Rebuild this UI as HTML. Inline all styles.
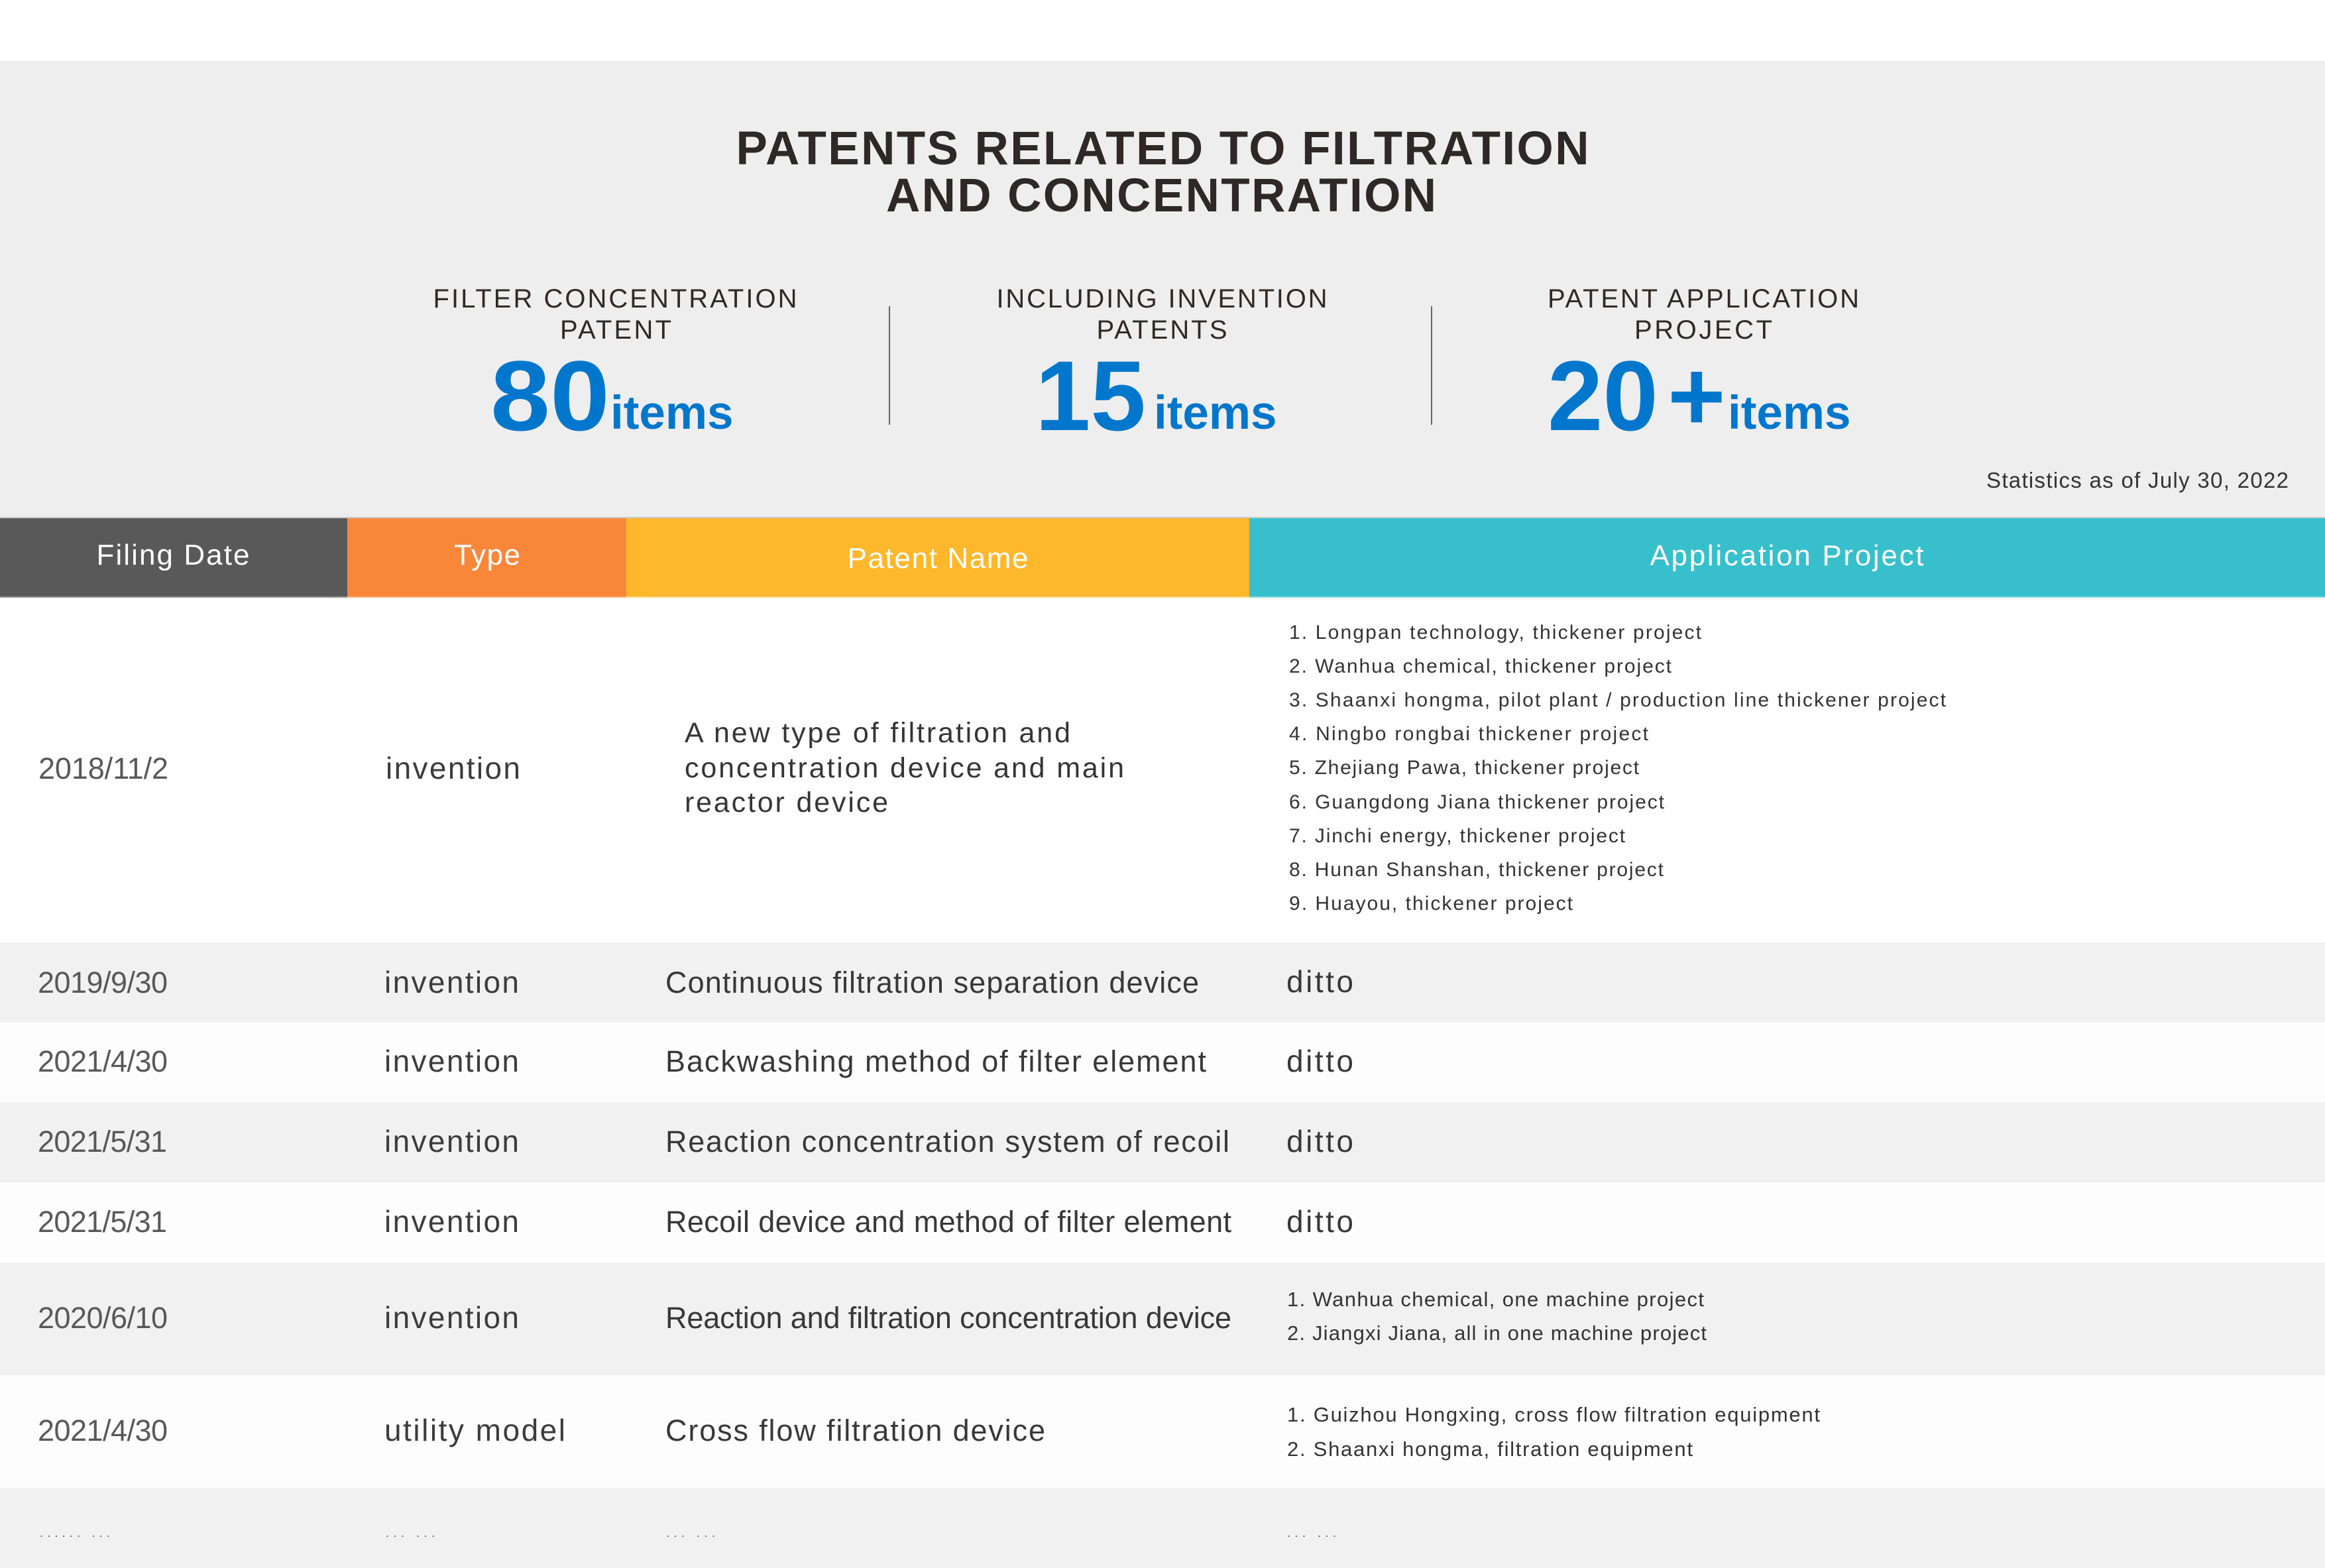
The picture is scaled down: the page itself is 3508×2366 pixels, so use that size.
<!DOCTYPE html>
<html>
<head>
<meta charset="utf-8">
<style>
html,body{margin:0;padding:0;background:#fff;}
body{width:3508px;height:2366px;overflow:hidden;}
svg{display:block;}
text{font-family:"Liberation Sans", Arial, sans-serif;}
</style>
</head>
<body>
<svg width="3508" height="2366" viewBox="0 0 3508 2366" xmlns="http://www.w3.org/2000/svg">
  <!-- backgrounds -->
  <rect x="0" y="0" width="3508" height="92" fill="#ffffff"/>
  <rect x="0" y="92" width="3508" height="690" fill="#eeeeee"/>

  <!-- title -->
  <g fill="#2e2826" font-weight="bold" font-size="71" text-anchor="middle">
    <text x="1754" y="248" textLength="1287" lengthAdjust="spacing">PATENTS RELATED TO FILTRATION</text>
    <text x="1752" y="319" textLength="830" lengthAdjust="spacing">AND CONCENTRATION</text>
  </g>

  <!-- subtitles -->
  <g fill="#2f2a28" font-size="40" text-anchor="middle">
    <text x="928" y="464" textLength="549" lengthAdjust="spacing">FILTER CONCENTRATION</text>
    <text x="929" y="511" textLength="168" lengthAdjust="spacing">PATENT</text>
    <text x="1753" y="464" textLength="499" lengthAdjust="spacing">INCLUDING INVENTION</text>
    <text x="1753" y="511" textLength="197" lengthAdjust="spacing">PATENTS</text>
    <text x="2570" y="464" textLength="470" lengthAdjust="spacing">PATENT APPLICATION</text>
    <text x="2570" y="511" textLength="208" lengthAdjust="spacing">PROJECT</text>
  </g>

  <!-- separators -->
  <rect x="1341" y="462" width="2" height="179" fill="#666"/>
  <rect x="2159" y="462" width="2" height="179" fill="#666"/>

  <!-- big numbers -->
  <g fill="#0077cc" font-weight="bold">
    <text x="740" y="649" font-size="150" textLength="180" lengthAdjust="spacingAndGlyphs">80</text>
    <text x="921" y="647" font-size="71">items</text>
    <text x="1562" y="649" font-size="150">15</text>
    <text x="1741" y="647" font-size="71">items</text>
    <text x="2335" y="649" font-size="150">20</text>
    <text x="2516" y="649" font-size="150">+</text>
    <text x="2607" y="647" font-size="71">items</text>
  </g>

  <!-- statistics note -->
  <text x="2997" y="736" font-size="33" fill="#333" textLength="456" lengthAdjust="spacing">Statistics as of July 30, 2022</text>

  <!-- header -->
  <rect x="0" y="780" width="3508" height="2" fill="#c9c9c9"/>
  <rect x="0" y="782" width="524" height="120" fill="#595959"/>
  <rect x="524" y="782" width="421" height="120" fill="#f8873a"/>
  <rect x="945" y="782" width="940" height="120" fill="#ffb72c"/>
  <rect x="1885" y="782" width="1623" height="120" fill="#38bfcc"/>
  <rect x="0" y="900" width="524" height="2" fill="#9a9a9a"/>
  <rect x="524" y="900" width="421" height="2" fill="#fbb88a"/>
  <rect x="945" y="900" width="940" height="2" fill="#ffd98a"/>
  <rect x="1885" y="900" width="1623" height="2" fill="#8edbe3"/>
  <g fill="#ffffff" font-size="44" text-anchor="middle">
    <text x="261" y="852" textLength="231" lengthAdjust="spacing">Filing Date</text>
    <text x="735" y="852" textLength="100" lengthAdjust="spacing">Type</text>
    <text x="1415" y="857" textLength="273" lengthAdjust="spacing">Patent Name</text>
    <text x="2696" y="853" textLength="413" lengthAdjust="spacing">Application Project</text>
  </g>

  <!-- rows backgrounds -->
  <rect x="0" y="902" width="3508" height="520" fill="#ffffff"/>
  <rect x="0" y="1422" width="3508" height="121" fill="#f1f1f1"/>
  <rect x="0" y="1543" width="3508" height="120" fill="#fdfdfd"/>
  <rect x="0" y="1663" width="3508" height="121" fill="#f1f1f1"/>
  <rect x="0" y="1784" width="3508" height="121" fill="#fdfdfd"/>
  <rect x="0" y="1905" width="3508" height="170" fill="#f1f1f1"/>
  <rect x="0" y="2075" width="3508" height="170" fill="#fdfdfd"/>
  <rect x="0" y="2245" width="3508" height="121" fill="#f1f1f1"/>

  <!-- row 1 -->
  <text x="58" y="1175" font-size="45" fill="#585858" textLength="196" lengthAdjust="spacing">2018/11/2</text>
  <text x="582" y="1175" font-size="46" fill="#3c3c3c" textLength="203" lengthAdjust="spacing">invention</text>
  <g font-size="43" fill="#353535">
    <text x="1033" y="1120" textLength="582" lengthAdjust="spacing">A new type of filtration and</text>
    <text x="1033" y="1173" textLength="663" lengthAdjust="spacing">concentration device and main</text>
    <text x="1033" y="1225" textLength="307" lengthAdjust="spacing">reactor device</text>
  </g>
  <g font-size="30" fill="#333">
    <text x="1945" y="964" textLength="622" lengthAdjust="spacing">1. Longpan technology, thickener project</text>
    <text x="1945" y="1015" textLength="577" lengthAdjust="spacing">2. Wanhua chemical, thickener project</text>
    <text x="1945" y="1066" textLength="991" lengthAdjust="spacing">3. Shaanxi hongma, pilot plant / production line thickener project</text>
    <text x="1945" y="1117" textLength="542" lengthAdjust="spacing">4. Ningbo rongbai thickener project</text>
    <text x="1945" y="1168" textLength="528" lengthAdjust="spacing">5. Zhejiang Pawa, thickener project</text>
    <text x="1945" y="1220" textLength="566" lengthAdjust="spacing">6. Guangdong Jiana thickener project</text>
    <text x="1945" y="1271" textLength="507" lengthAdjust="spacing">7. Jinchi energy, thickener project</text>
    <text x="1945" y="1322" textLength="565" lengthAdjust="spacing">8. Hunan Shanshan, thickener project</text>
    <text x="1945" y="1373" textLength="428" lengthAdjust="spacing">9. Huayou, thickener project</text>
  </g>

  <!-- dates -->
  <g font-size="45" fill="#585858">
    <text x="57" y="1498" textLength="196" lengthAdjust="spacing">2019/9/30</text>
    <text x="57" y="1617" textLength="196" lengthAdjust="spacing">2021/4/30</text>
    <text x="57" y="1738" textLength="195" lengthAdjust="spacing">2021/5/31</text>
    <text x="57" y="1859" textLength="195" lengthAdjust="spacing">2021/5/31</text>
    <text x="57" y="2004" textLength="196" lengthAdjust="spacing">2020/6/10</text>
    <text x="57" y="2174" textLength="196" lengthAdjust="spacing">2021/4/30</text>
  </g>

  <!-- types -->
  <g font-size="46" fill="#3c3c3c">
    <text x="580" y="1498" textLength="203" lengthAdjust="spacing">invention</text>
    <text x="580" y="1617" textLength="203" lengthAdjust="spacing">invention</text>
    <text x="580" y="1738" textLength="203" lengthAdjust="spacing">invention</text>
    <text x="580" y="1859" textLength="203" lengthAdjust="spacing">invention</text>
    <text x="580" y="2004" textLength="203" lengthAdjust="spacing">invention</text>
    <text x="580" y="2174" textLength="273" lengthAdjust="spacing">utility model</text>
  </g>

  <!-- patent names -->
  <g font-size="45" fill="#383838">
    <text x="1004" y="1498" textLength="805" lengthAdjust="spacing">Continuous filtration separation device</text>
    <text x="1004" y="1617" textLength="816" lengthAdjust="spacing">Backwashing method of filter element</text>
    <text x="1004" y="1738" textLength="851" lengthAdjust="spacing">Reaction concentration system of recoil</text>
    <text x="1004" y="1859" textLength="854" lengthAdjust="spacing">Recoil device and method of filter element</text>
    <text x="1004" y="2004" textLength="854" lengthAdjust="spacing">Reaction and filtration concentration device</text>
    <text x="1004" y="2174" textLength="573" lengthAdjust="spacing">Cross flow filtration device</text>
  </g>

  <!-- application -->
  <g font-size="46" fill="#383838">
    <text x="1941" y="1497" textLength="101" lengthAdjust="spacing">ditto</text>
    <text x="1941" y="1617" textLength="101" lengthAdjust="spacing">ditto</text>
    <text x="1941" y="1738" textLength="101" lengthAdjust="spacing">ditto</text>
    <text x="1941" y="1859" textLength="101" lengthAdjust="spacing">ditto</text>
  </g>
  <g font-size="31" fill="#333">
    <text x="1942" y="1971" textLength="629" lengthAdjust="spacing">1. Wanhua chemical, one machine project</text>
    <text x="1942" y="2022" textLength="633" lengthAdjust="spacing">2. Jiangxi Jiana, all in one machine project</text>
    <text x="1942" y="2145" textLength="804" lengthAdjust="spacing">1. Guizhou Hongxing, cross flow filtration equipment</text>
    <text x="1942" y="2197" textLength="612" lengthAdjust="spacing">2. Shaanxi hongma, filtration equipment</text>
  </g>

  <!-- last row dots -->
  <g font-size="18" fill="#555">
    <text x="60" y="2319" textLength="106" lengthAdjust="spacing">...... ...</text>
    <text x="582" y="2319" textLength="74" lengthAdjust="spacing">... ...</text>
    <text x="1005" y="2319" textLength="74" lengthAdjust="spacing">... ...</text>
    <text x="1942" y="2319" textLength="74" lengthAdjust="spacing">... ...</text>
  </g>
</svg>
</body>
</html>
